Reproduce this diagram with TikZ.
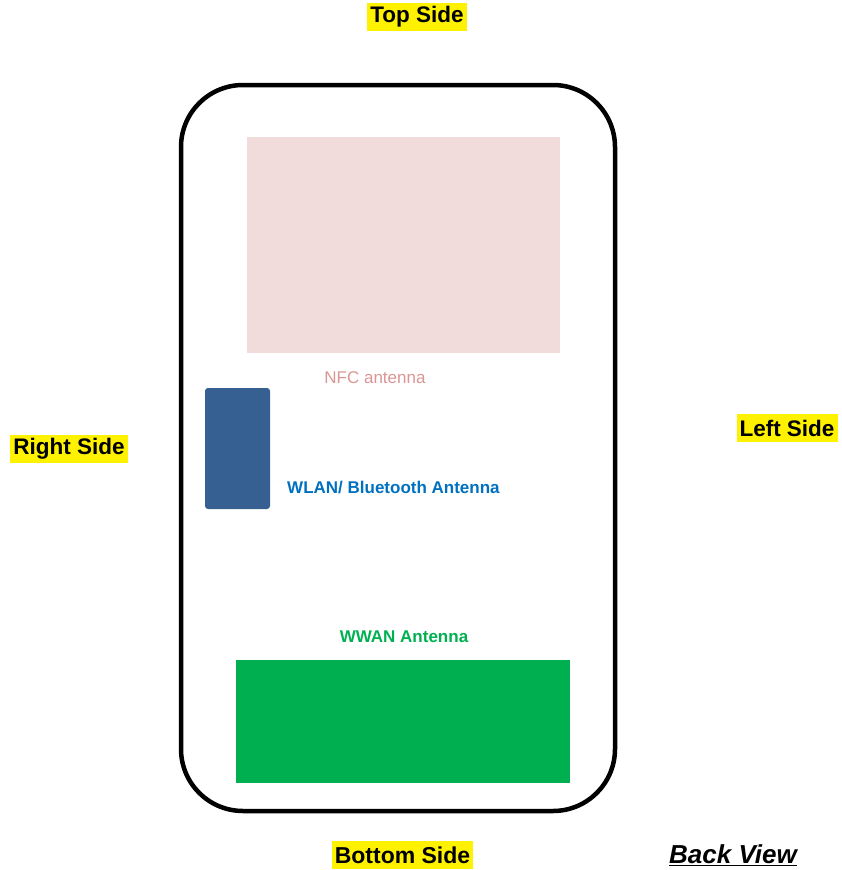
\documentclass[tikz,border=0pt]{standalone}
\usepackage{fontspec}
\setmainfont{Liberation Sans}
\definecolor{nfcfill}{HTML}{F2DCDB}
\definecolor{nfctext}{HTML}{D99694}
\definecolor{wlanfill}{HTML}{366092}
\definecolor{wlantext}{HTML}{0070C0}
\definecolor{wwangreen}{HTML}{00B050}
\begin{document}
\begin{tikzpicture}[x=1pt,y=-1pt,
  sidelabel/.style={fill=yellow, inner xsep=3pt, inner ysep=0pt, minimum height=28pt,
    font=\fontsize{22.5}{25}\selectfont\bfseries, text=black},
  antlabel/.style={font=\fontsize{17}{20}\selectfont\bfseries, inner sep=0pt}]
  \useasboundingbox (0,0) rectangle (841,870);
  % phone outline
  \draw[line width=4.5pt, rounded corners=62pt] (181,85) rectangle (615,811);
  % NFC antenna area
  \fill[nfcfill] (247,137) rectangle (560,353);
  \node[inner sep=0pt, text=nfctext, font=\fontsize{17}{20}\selectfont] (nfc) at (375,378) {NFC antenna};
  % WLAN / Bluetooth antenna
  \fill[wlanfill, rounded corners=3pt] (205,388) rectangle (270,509);
  \node[antlabel, text=wlantext, anchor=west] (wlan) at (287,488) {WLAN/ Bluetooth Antenna};
  % WWAN antenna
  \node[antlabel, text=wwangreen] (wwan) at (404,637) {WWAN Antenna};
  \fill[wwangreen] (236,660) rectangle (570,783);
  % side labels
  \node[sidelabel] (top) at (417,17) {Top Side};
  \node[sidelabel] (left) at (787,428) {Left Side};
  \node[sidelabel] (right) at (69,449) {Right Side};
  \node[sidelabel, font=\fontsize{23}{25}\selectfont\bfseries] (bottom) at (402.5,855) {Bottom Side};
  \node[inner sep=0pt, font=\fontsize{26}{30}\selectfont\bfseries\itshape] (back) at (733,855) {\underline{Back View}};
\end{tikzpicture}
\end{document}
